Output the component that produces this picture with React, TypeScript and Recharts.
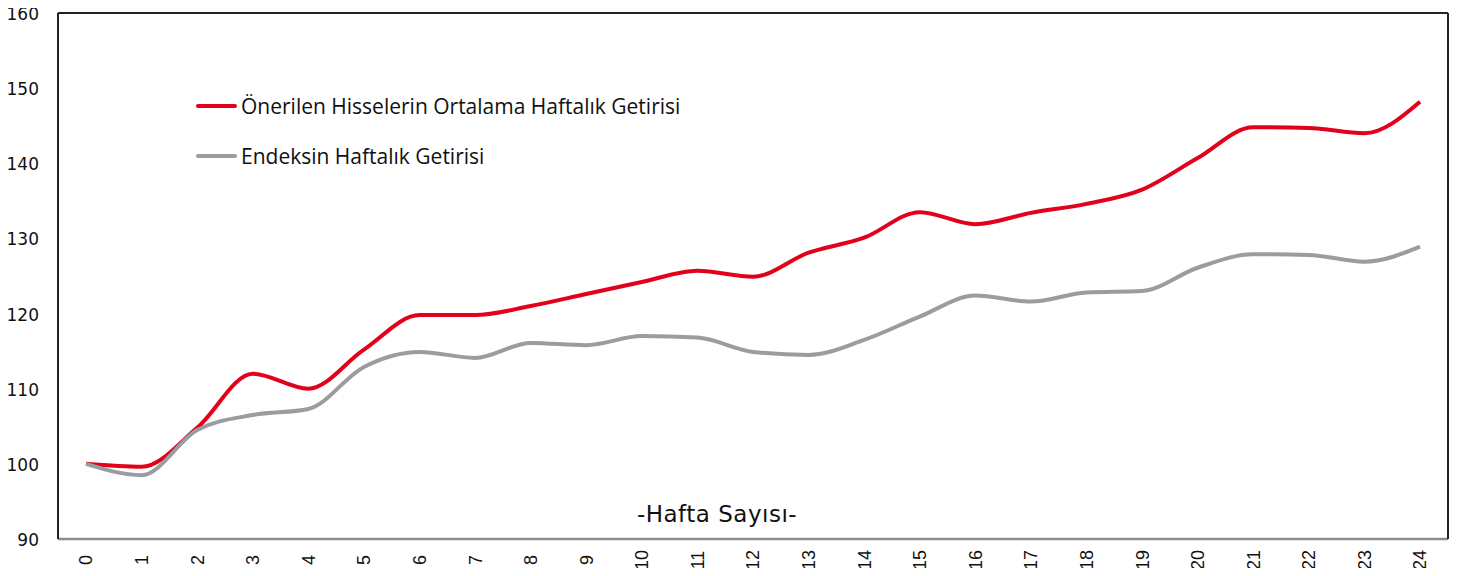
import { LineChart, Line, XAxis, YAxis } from "recharts";

const weeks = ["0","1","2","3","4","5","6","7","8","9","10","11","12","13","14","15","16","17","18","19","20","21","22","23","24"];
const onerilen = [100, 99.6, 104.8, 112.0, 110.0, 115.2, 119.8, 119.8, 121.0, 122.6, 124.2, 125.7, 124.9, 128.1, 130.1, 133.5, 131.9, 133.4, 134.6, 136.5, 140.7, 144.8, 144.7, 144.0, 148.2];
const endeks = [100, 98.5, 104.5, 106.5, 107.3, 112.9, 114.9, 114.1, 116.1, 115.8, 117.0, 116.8, 114.9, 114.5, 116.5, 119.6, 122.4, 121.6, 122.8, 123.0, 126.1, 127.9, 127.8, 126.9, 128.9];
const yTicks = [90, 100, 110, 120, 130, 140, 150, 160];

const RED = "#e2001a";
const GRAY = "#999ca1";

const series = [
  { key: "onerilen", name: "Önerilen Hisselerin Ortalama Haftalık Getirisi", color: RED },
  { key: "endeks", name: "Endeksin Haftalık Getirisi", color: GRAY },
];

const data = weeks.map((w, i) => ({ week: w, onerilen: onerilen[i], endeks: endeks[i] }));

function WeekTick({ x, y, payload }: { x?: number; y?: number; payload?: { value: string } }) {
  return (
    <g transform={`translate(${x},${(y ?? 0) + 13}) rotate(-90)`}>
      <text textAnchor="middle" dy="0.36em" fontFamily="Liberation Sans" fontSize={18} fill="#111">
        {payload?.value}
      </text>
    </g>
  );
}

export default function App() {
  return (
    <div style={{ margin: -8, width: 1467, height: 576, background: "#fff", position: "relative" }}>
      <LineChart width={1467} height={576} data={data} margin={{ top: 12, right: 18, bottom: 0, left: 0 }}>
        <XAxis
          dataKey="week"
          interval={0}
          padding={{ left: 28, right: 28 }}
          axisLine={{ stroke: "#8c8c8c", strokeWidth: 2.5 }}
          tickLine={false}
          height={37}
          tick={<WeekTick />}
          label={{
            value: "-Hafta Sayısı-",
            position: "top",
            offset: 17,
            dx: -36,
            style: { fontFamily: "DejaVu Sans", fontSize: 23, letterSpacing: 0.5, fill: "#111" },
          }}
        />
        <XAxis xAxisId="top" orientation="top" dataKey="week" height={1} tick={false} tickLine={false} axisLine={{ stroke: "#222", strokeWidth: 2 }} />
        <YAxis
          domain={[90, 160]}
          ticks={yTicks}
          width={58}
          axisLine={{ stroke: "#222", strokeWidth: 2 }}
          tickLine={false}
          tick={{ fontFamily: "DejaVu Sans", fontSize: 17, fill: "#111", dx: -11, dy: 1 }}
        />
        <YAxis yAxisId="right" orientation="right" domain={[90, 160]} width={1} tick={false} tickLine={false} axisLine={{ stroke: "#222", strokeWidth: 2 }} />
        {series.map((s) => (
          <Line key={s.key} dataKey={s.key} name={s.name} type="monotone" stroke={s.color} strokeWidth={4} dot={false} isAnimationActive={false} />
        ))}
      </LineChart>

      {/* legend inside the plot */}
      <div style={{ position: "absolute", left: 196, top: 81 }}>
        {series.map((s) => (
          <div key={s.key} style={{ display: "flex", alignItems: "center", height: 50 }}>
            <div style={{ width: 41, height: 4, background: s.color, borderRadius: 2 }} />
            <span style={{ fontFamily: "Open Sans", fontSize: 21, color: "#111", marginLeft: 4 }}>{s.name}</span>
          </div>
        ))}
      </div>
    </div>
  );
}
